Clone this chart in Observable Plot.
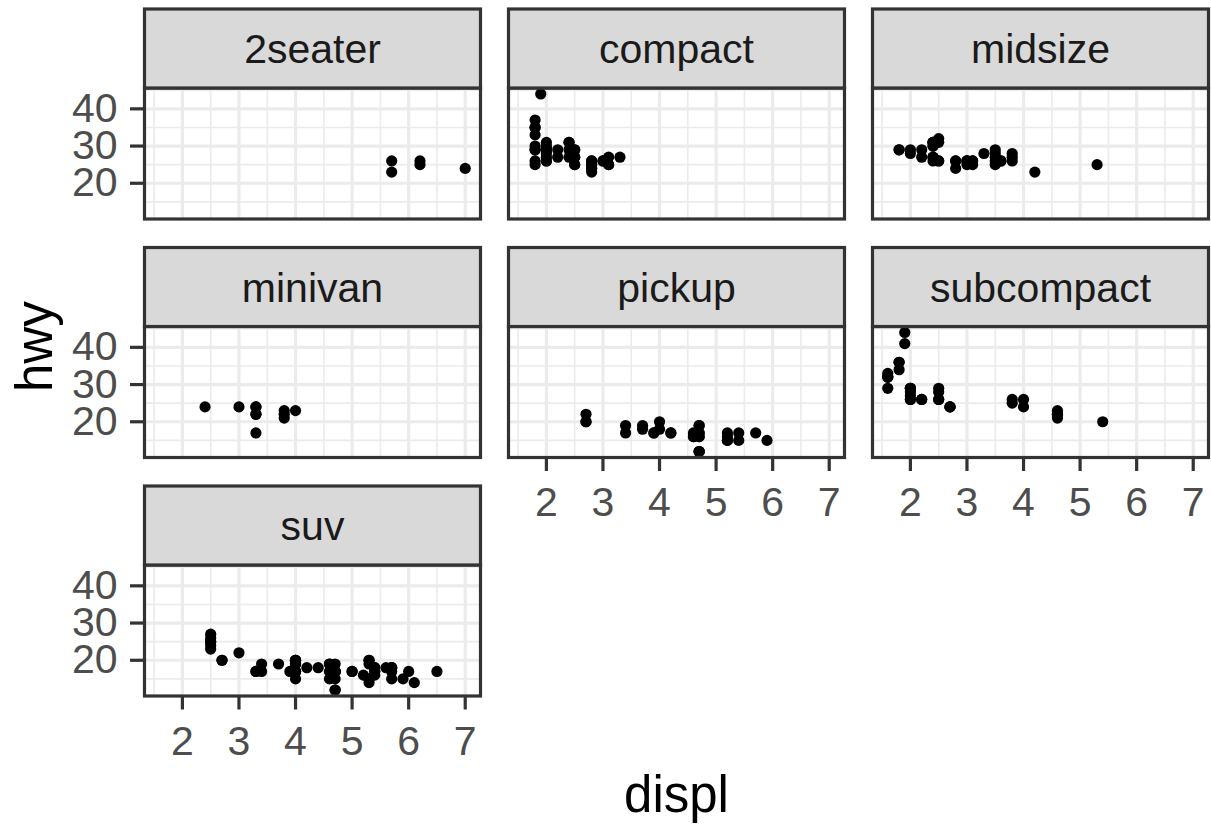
<!DOCTYPE html>
<html>
<head>
<meta charset="utf-8">
<script src="https://cdn.jsdelivr.net/npm/d3@7"></script>
<script src="https://cdn.jsdelivr.net/npm/@observablehq/plot@0.6"></script>
<style>
  html, body { margin: 0; padding: 0; background: #ffffff; }
  #chart { width: 1211px; height: 824px; }
</style>
</head>
<body>
<div id="chart"></div>
<script>
// Highway mileage (hwy) against engine displacement (displ), one panel per vehicle class.
const classes = ["2seater", "compact", "midsize", "minivan", "pickup", "subcompact", "suv"];

const displ2seater = [5.7, 5.7, 6.2, 6.2, 7.0];
const hwy2seater   = [26, 23, 26, 25, 24];

const displCompact = [1.8, 1.8, 2.0, 2.0, 2.8, 2.8, 3.1, 1.8, 1.8, 2.0, 2.0, 2.8, 2.8, 3.1, 3.1,
  2.4, 2.4, 2.5, 2.5, 2.5, 2.5, 2.2, 2.2, 2.4, 2.4, 3.0, 3.0, 3.3,
  1.8, 1.8, 1.8, 1.8, 1.8, 2.0, 2.0, 2.0, 2.0, 2.8,
  1.9, 2.0, 2.0, 2.0, 2.0, 2.5, 2.5, 2.8, 2.8];
const hwyCompact   = [29, 29, 31, 30, 26, 26, 27, 26, 25, 28, 27, 25, 25, 25, 25,
  29, 27, 25, 27, 25, 27, 27, 29, 31, 31, 26, 26, 27,
  30, 33, 35, 37, 35, 29, 26, 29, 29, 24,
  44, 29, 26, 29, 29, 29, 29, 23, 24];

const displMidsize = [2.8, 3.1, 4.2, 2.4, 2.4, 3.1, 3.5, 3.6,
  2.4, 2.4, 2.4, 2.4, 2.5, 2.5, 3.3, 2.5, 2.5, 3.5, 3.5, 3.0, 3.0, 3.5,
  3.1, 3.8, 3.8, 3.8, 5.3, 2.2, 2.2, 2.4, 2.4, 3.0, 3.0, 3.5,
  1.8, 1.8, 2.0, 2.0, 2.8, 2.8, 3.6];
const hwyMidsize   = [24, 25, 23, 27, 30, 26, 29, 26,
  26, 27, 30, 31, 26, 26, 28, 31, 32, 27, 26, 26, 25, 25,
  26, 26, 27, 28, 25, 29, 27, 31, 31, 26, 26, 28,
  29, 29, 28, 29, 26, 26, 26];

const displMinivan = [2.4, 3.0, 3.3, 3.3, 3.3, 3.3, 3.3, 3.8, 3.8, 3.8, 4.0];
const hwyMinivan   = [24, 24, 22, 22, 24, 24, 17, 22, 21, 23, 23];

const displPickup = [3.7, 3.7, 3.9, 3.9, 4.7, 4.7, 4.7, 5.2, 5.2,
  4.7, 4.7, 4.7, 4.7, 4.7, 4.7, 5.2, 5.2, 5.7, 5.9,
  4.2, 4.2, 4.6, 4.6, 4.6, 5.4, 5.4,
  2.7, 2.7, 2.7, 3.4, 3.4, 4.0, 4.0];
const hwyPickup   = [19, 18, 17, 17, 19, 19, 12, 17, 15,
  16, 12, 17, 17, 16, 12, 15, 16, 17, 15,
  17, 17, 16, 16, 17, 15, 17,
  20, 20, 22, 17, 19, 18, 20];

const displSubcompact = [3.8, 3.8, 4.0, 4.0, 4.6, 4.6, 4.6, 4.6, 5.4,
  1.6, 1.6, 1.6, 1.6, 1.6, 1.8, 1.8, 1.8, 2.0,
  2.0, 2.0, 2.0, 2.0, 2.7, 2.7, 2.7,
  2.2, 2.2, 2.5, 2.5,
  1.9, 1.9, 2.0, 2.0, 2.5, 2.5];
const hwySubcompact   = [26, 25, 26, 24, 21, 22, 23, 22, 20,
  33, 32, 32, 29, 32, 34, 36, 36, 29,
  26, 29, 28, 27, 24, 24, 24,
  26, 26, 26, 26,
  44, 41, 29, 26, 28, 29];

const displSuv = [5.3, 5.3, 5.3, 5.7, 6.0, 5.3, 5.3, 5.7, 6.5,
  3.9, 4.7, 4.7, 4.7, 5.2, 5.7, 5.9, 4.6, 5.4, 5.4,
  4.0, 4.0, 4.0, 4.0, 4.6, 5.0,
  3.0, 3.7, 4.0, 4.7, 4.7, 4.7, 5.7, 6.1,
  4.0, 4.2, 4.4, 4.6, 5.4, 5.4, 5.4,
  4.0, 4.0, 4.6, 5.0, 3.3, 3.3, 4.0, 5.6,
  2.5, 2.5, 2.5, 2.5, 2.5, 2.5,
  2.7, 2.7, 3.4, 3.4, 4.0, 4.7, 4.7, 5.7];
const hwySuv   = [20, 15, 20, 17, 17, 19, 14, 15, 17,
  17, 17, 12, 17, 16, 18, 15, 17, 17, 18,
  17, 19, 17, 19, 19, 17,
  22, 19, 20, 17, 12, 19, 18, 14,
  15, 18, 18, 15, 17, 16, 18,
  17, 19, 19, 17, 17, 17, 20, 18,
  25, 24, 27, 25, 26, 23,
  20, 20, 19, 17, 20, 17, 15, 18];

// Axis breaks (major ticks carry labels, minor ones only a thin grid line)
const xMajorTicks = [2, 3, 4, 5, 6, 7];
const xMinorTicks = [1.5, 2.5, 3.5, 4.5, 5.5, 6.5];
const yMajorTicks = [20, 30, 40];
const yMinorTicks = [15, 25, 35, 45];

// Page geometry: three columns of panels, wrapped over three rows
const W = 1211, H = 824;
const panelLeft = 144, panelRight = 1208, panelTop = 87.5, panelBottom = 695.5;
const colGap = 28, rowGap = 107.5, stripH = 79;
const nCols = 3, nRows = 3;
const panelW = (panelRight - panelLeft - colGap * (nCols - 1)) / nCols;
const panelH = (panelBottom - panelTop - rowGap * (nRows - 1)) / nRows;

const series = [
  [displ2seater, hwy2seater],
  [displCompact, hwyCompact],
  [displMidsize, hwyMidsize],
  [displMinivan, hwyMinivan],
  [displPickup, hwyPickup],
  [displSubcompact, hwySubcompact],
  [displSuv, hwySuv]
];

const points = series.flatMap(([xs, ys], i) =>
  xs.map((x, j) => ({cls: classes[i], displ: x, hwy: ys[j], col: i % nCols, row: Math.floor(i / nCols)}))
);
const strips = classes.map((c, i) => ({cls: c, col: i % nCols, row: Math.floor(i / nCols)}));

// ggplot-style 5% expansion of the data range
const expand = ([a, b]) => [a - (b - a) * 0.05, b + (b - a) * 0.05];
const xDomain = expand(d3.extent(points, d => d.displ));
const yDomain = expand(d3.extent(points, d => d.hwy));

const ink = "#333333";
const gridColor = "#EBEBEB";
const lineW = 3.2;

const chart = Plot.plot({
  width: W,
  height: H,
  marginLeft: panelLeft,
  marginRight: W - panelRight,
  marginTop: panelTop,
  marginBottom: H - panelBottom,
  style: {fontFamily: "'Liberation Sans', Arial, Helvetica, sans-serif", background: "#ffffff", overflow: "visible"},
  fx: {domain: [0, 1, 2], axis: null, round: false, paddingInner: colGap / (panelW + colGap), paddingOuter: 0},
  fy: {domain: [0, 1, 2], axis: null, round: false, paddingInner: rowGap / (panelH + rowGap), paddingOuter: 0},
  x: {domain: xDomain},
  y: {domain: yDomain},
  marks: [
    Plot.gridX(xMinorTicks, {stroke: gridColor, strokeOpacity: 1, strokeWidth: lineW / 2}),
    Plot.gridY(yMinorTicks, {stroke: gridColor, strokeOpacity: 1, strokeWidth: lineW / 2}),
    Plot.gridX(xMajorTicks, {stroke: gridColor, strokeOpacity: 1, strokeWidth: lineW}),
    Plot.gridY(yMajorTicks, {stroke: gridColor, strokeOpacity: 1, strokeWidth: lineW}),
    Plot.dot(points, {x: "displ", y: "hwy", fx: "col", fy: "row", r: 5.6, fill: "#000000", stroke: "none"}),
    // panel border
    Plot.frame({stroke: ink, strokeWidth: lineW}),
    // strip box sitting on top of each panel
    Plot.frame({fill: "#D9D9D9", stroke: ink, strokeWidth: lineW, insetTop: -stripH, insetBottom: panelH}),
    Plot.text(strips, {
      fx: "col", fy: "row", text: "cls", frameAnchor: "top", lineAnchor: "middle",
      dy: -stripH / 2 + 1.6, fontSize: 41, fill: "#1A1A1A"
    }),
    Plot.axisX(xMajorTicks, {
      anchor: "bottom", facetAnchor: "bottom-empty", label: null,
      tickSize: 14, tickPadding: 15.5, fontSize: 41,
      stroke: ink, strokeWidth: lineW, fill: "#4D4D4D"
    }),
    Plot.axisY(yMajorTicks, {
      anchor: "left", facetAnchor: "left", label: null,
      tickSize: 14, tickPadding: 13, fontSize: 41,
      stroke: ink, strokeWidth: lineW, fill: "#4D4D4D"
    }),
    // axis titles
    Plot.text(["displ"], {
      facet: "super", text: d => d, frameAnchor: "bottom", lineAnchor: "middle",
      dy: 100, fontSize: 51, fill: "#000000"
    }),
    Plot.text(["hwy"], {
      facet: "super", text: d => d, frameAnchor: "left", lineAnchor: "middle",
      rotate: -90, dx: -108.6, fontSize: 51, fill: "#000000"
    })
  ]
});

document.getElementById("chart").appendChild(chart);
</script>
</body>
</html>
